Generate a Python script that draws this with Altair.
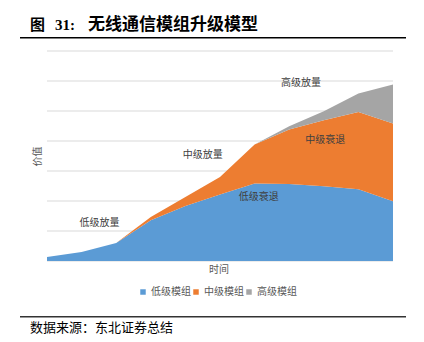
import altair as alt
import pandas as pd

# ---- data ----
periods = list(range(11))
series_names = ["低级模组", "中级模组", "高级模组"]
low_vals = [0.13, 0.30, 0.60, 1.36, 1.83, 2.22, 2.58, 2.57, 2.49, 2.39, 1.99]
mid_vals = [0.0, 0.0, 0.0, 0.11, 0.30, 0.58, 1.30, 1.81, 2.20, 2.58, 2.59]
high_vals = [0.0, 0.0, 0.0, 0.0, 0.0, 0.0, 0.0, 0.11, 0.30, 0.61, 1.30]
series_colors = ["#5B9BD5", "#ED7D31", "#A5A5A5"]
grid_values = [0, 1, 2, 3, 4, 5, 6, 7]

anno_text = ["低级放量", "中级放量", "高级放量", "中级衰退", "低级衰退"]
anno_x = [1.52, 4.5, 7.34, 8.04, 6.12]
anno_y = [1.27, 3.54, 5.93, 4.04, 2.13]

title_prefix = "图"
title_num = "31:"
title_main = "无线通信模组升级模型"
source_text = "数据来源：东北证券总结"
x_title = "时间"
y_title = "价值"

FONT = "Noto Sans CJK SC"

rows = []
for i, name in enumerate(series_names):
    vals = [low_vals, mid_vals, high_vals][i]
    for p, v in zip(periods, vals):
        rows.append({"t": p, "series": name, "value": v, "ord": i})
df = pd.DataFrame(rows)

W, H = 346, 210
L, T = 47, 51

x_scale = alt.Scale(domain=[0, 10], nice=False, zero=False, padding=0)
y_scale = alt.Scale(domain=[0, 7], nice=False)

grid = alt.Chart(pd.DataFrame({"g": grid_values})).mark_rule(
    color="#D9D9D9", strokeWidth=1).encode(
    y=alt.Y("g:Q", scale=y_scale, axis=None),
    x=alt.value(0), x2=alt.value(W))

areas = alt.Chart(df).mark_area(opacity=1).encode(
    x=alt.X("t:Q", scale=x_scale, axis=None),
    y=alt.Y("value:Q", stack="zero", scale=y_scale, axis=None),
    color=alt.Color("series:N",
                    scale=alt.Scale(domain=series_names, range=series_colors),
                    legend=alt.Legend(title=None, orient="none", direction="horizontal",
                                      legendX=91, legendY=236, symbolType="square",
                                      symbolSize=30, symbolStrokeWidth=0,
                                      labelFont=FONT, labelFontSize=10,
                                      labelColor="#595959", columnPadding=0,
                                      symbolOffset=0, labelOffset=3)),
    order=alt.Order("ord:Q"),
)

anno_df = pd.DataFrame({"text": anno_text, "x": anno_x, "y": anno_y})
annos = alt.Chart(anno_df).mark_text(font=FONT, fontSize=10, color="#404040",
                                     align="center", baseline="middle").encode(
    x=alt.X("x:Q", scale=x_scale, axis=None),
    y=alt.Y("y:Q", scale=y_scale, axis=None),
    text="text:N")

one = pd.DataFrame({"k": [0]})


def txt(s, px, py, size, weight="normal", align="left", color="#000000", angle=0, font=FONT):
    kw = dict(font=font, fontSize=size, fontWeight=weight, align=align,
              baseline="middle", color=color, text=s)
    if angle:
        kw["angle"] = angle
    return alt.Chart(one).mark_text(**kw).encode(x=alt.value(px - L), y=alt.value(py - T))


def hline(x1, x2, py, width, color="#000000"):
    return alt.Chart(one).mark_rule(color=color, strokeWidth=width).encode(
        x=alt.value(x1 - L), x2=alt.value(x2 - L), y=alt.value(py - T))


layers = [
    grid,
    areas,
    annos,
    txt(title_prefix, 30, 25, 15, "bold"),
    txt(title_num, 55, 25, 15, "bold", font="Liberation Serif"),
    txt(title_main, 88, 25, 17, "bold"),
    hline(20, 406, 37.7, 1.5),
    txt(x_title, 219, 270, 10, color="#595959", align="center"),
    txt(y_title, 38, 156.5, 10, color="#595959", align="center", angle=270),
    hline(20, 406, 316.7, 1.5, "#333333"),
    txt(source_text, 30, 328, 13),
]

chart = alt.layer(*layers).properties(
    width=W, height=H,
    background="white",
    autosize=alt.AutoSizeParams(type="none"),
    padding={"left": L, "top": T, "right": 424 - L - W, "bottom": 342 - T - H},
).configure_view(strokeWidth=0, stroke="transparent")

chart.save("out.html", embed_options={"renderer": "svg", "actions": False})
